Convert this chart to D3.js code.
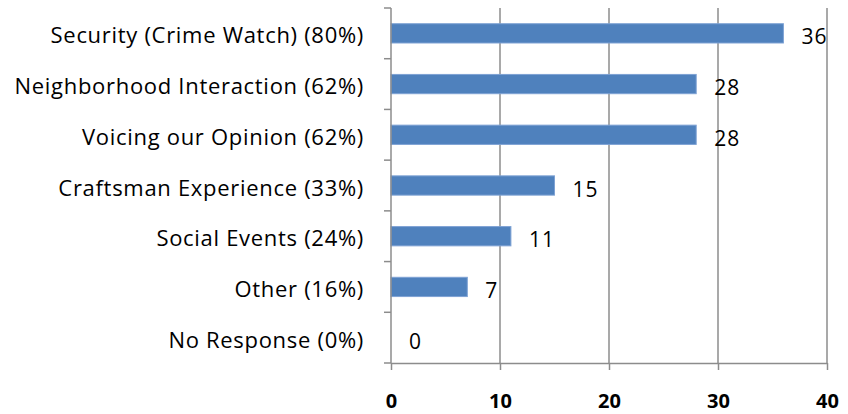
<!DOCTYPE html>
<html>
<head>
<meta charset="utf-8">
<script src="https://cdn.jsdelivr.net/npm/d3@7"></script>
<style>
  body { margin: 0; background: #fff; }
  svg { display: block; }
  .axis path, .axis line { stroke: #8c8c8c; stroke-width: 1.5; }
</style>
</head>
<body>
<svg width="848" height="414"></svg>
<script>
var categories = ["Security (Crime Watch) (80%)", "Neighborhood Interaction (62%)",
    "Voicing our Opinion (62%)", "Craftsman Experience (33%)", "Social Events (24%)",
    "Other (16%)", "No Response (0%)"];
var counts = [36, 28, 28, 15, 11, 7, 0];
var xTicks = [0, 10, 20, 30, 40];

var svg = d3.select("svg"),
    margin = {top: 8, right: 21, bottom: 51, left: 391},
    width = +svg.attr("width") - margin.left - margin.right,
    height = +svg.attr("height") - margin.top - margin.bottom,
    g = svg.append("g").attr("transform", "translate(" + margin.left + "," + margin.top + ")");

var font = "'Open Sans', Lato, sans-serif";

var x = d3.scaleLinear().domain([0, 40]).range([0, width]);
var y = d3.scaleBand().domain(categories).range([0, height]).paddingInner(0.62).paddingOuter(0.31);

// vertical gridlines
g.selectAll(".grid")
    .data(xTicks.slice(1))
    .enter().append("line")
    .attr("x1", function (d) { return x(d); })
    .attr("x2", function (d) { return x(d); })
    .attr("y1", 0)
    .attr("y2", height)
    .attr("stroke", "#8c8c8c")
    .attr("stroke-width", 1.5);

// bars
g.selectAll(".bar")
    .data(counts)
    .enter().append("rect")
    .attr("x", 0)
    .attr("y", function (d, i) { return y(categories[i]); })
    .attr("width", function (d) { return x(d); })
    .attr("height", y.bandwidth())
    .attr("fill", "#4f81bd")
    .attr("stroke", "#7ea2d4")
    .attr("stroke-width", 1)
    .style("display", function (d) { return d > 0 ? null : "none"; });

// value labels
g.selectAll(".val")
    .data(counts)
    .enter().append("text")
    .attr("x", function (d) { return x(d) + 18; })
    .attr("y", function (d, i) { return y(categories[i]) + y.bandwidth() / 2 + 11; })
    .style("font", "21px " + font)
    .style("letter-spacing", "1px")
    .attr("fill", "#000")
    .text(function (d) { return d; });

// category labels
g.selectAll(".cat")
    .data(categories)
    .enter().append("text")
    .attr("x", -27)
    .attr("y", function (d) { return y(d) + y.bandwidth() / 2 + 10; })
    .attr("text-anchor", "end")
    .style("font", "22px " + font)
    .style("letter-spacing", "0.7px")
    .attr("fill", "#000")
    .text(function (d) { return d; });

// y axis line with ticks at band boundaries
var bounds = d3.range(categories.length + 1).map(function (i) { return i * y.step(); });
g.append("line")
    .attr("x1", 0).attr("x2", 0).attr("y1", 0).attr("y2", height)
    .attr("stroke", "#8c8c8c").attr("stroke-width", 1.5);
g.selectAll(".ytick")
    .data(bounds)
    .enter().append("line")
    .attr("x1", -7).attr("x2", 0)
    .attr("y1", function (d) { return d; })
    .attr("y2", function (d) { return d; })
    .attr("stroke", "#8c8c8c").attr("stroke-width", 1.5);

// x axis
var xAxis = g.append("g")
    .attr("class", "axis")
    .attr("transform", "translate(0," + height + ")")
    .call(d3.axisBottom(x).tickValues(xTicks).tickSize(7).tickSizeOuter(0));
xAxis.selectAll("text")
    .attr("dy", "0")
    .attr("y", 45)
    .style("font", "bold 20px " + font)
    .attr("fill", "#000");
</script>
</body>
</html>
